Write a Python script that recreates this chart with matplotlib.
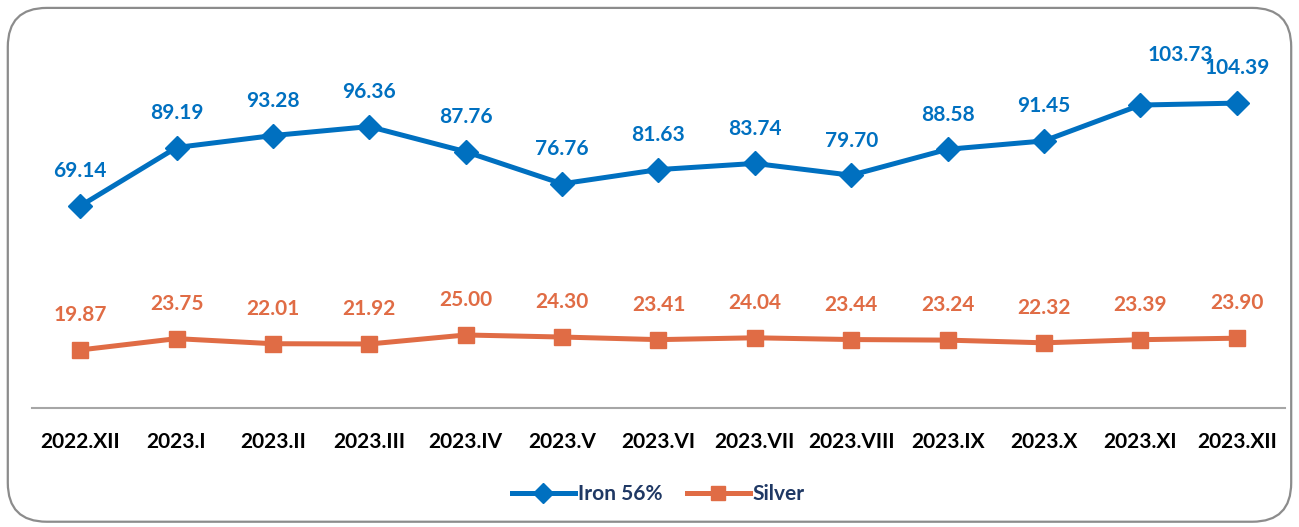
import matplotlib.pyplot as plt
from matplotlib.patches import FancyBboxPatch

plt.rcParams['font.family'] = ['Lato', 'DejaVu Sans']

months = ['2022.XII', '2023.I', '2023.II', '2023.III', '2023.IV', '2023.V', '2023.VI',
          '2023.VII', '2023.VIII', '2023.IX', '2023.X', '2023.XI', '2023.XII']
iron = [69.14, 89.19, 93.28, 96.36, 87.76, 76.76, 81.63, 83.74, 79.70, 88.58, 91.45, 103.73, 104.39]
silver = [19.87, 23.75, 22.01, 21.92, 25.00, 24.30, 23.41, 24.04, 23.44, 23.24, 22.32, 23.39, 23.90]

blue = '#0070C0'
orange = '#E06C45'

fig = plt.figure(figsize=(12.99, 5.27), dpi=100)
# rounded frame around the chart
frame = FancyBboxPatch((0.006, 0.01), 0.988, 0.975, boxstyle='round,pad=0,rounding_size=0.03',
                       transform=fig.transFigure, fc='white', ec='#8C8C8C', lw=1.6,
                       mutation_aspect=1299 / 527, zorder=-5)
fig.patches.append(frame)

ax = fig.add_axes([0.0246, 0.2258, 0.9646, 0.6717])
ax.patch.set_alpha(0)
x = list(range(len(months)))
ax.plot(x, iron, color=blue, lw=3.6, marker='D', ms=12, label='Iron 56%')
ax.plot(x, silver, color=orange, lw=3.6, marker='s', ms=12, label='Silver')

for i, v in enumerate(iron):
    dx, dy = 0, 25
    if i == len(iron) - 2:
        dx, dy = 29, 36
    ax.annotate(f'{v:.2f}', (i, v), xytext=(dx, dy), textcoords='offset points',
                ha='center', va='center', color=blue, fontsize=15, fontweight='bold')
for i, v in enumerate(silver):
    ax.annotate(f'{v:.2f}', (i, v), xytext=(0, 25), textcoords='offset points',
                ha='center', va='center', color=orange, fontsize=15, fontweight='bold')

ax.set_xlim(-0.5, len(months) - 0.5)
ax.set_ylim(0, 121.2)
ax.set_xticks(x)
ax.set_xticklabels(months, fontsize=15, fontweight='bold')
ax.tick_params(axis='x', length=0, pad=17)
ax.set_yticks([])
for s in ['top', 'left', 'right']:
    ax.spines[s].set_visible(False)
ax.spines['bottom'].set_color('#A6A6A6')
ax.spines['bottom'].set_linewidth(1.5)

leg = ax.legend(loc='center', bbox_to_anchor=(0.5, -0.243), ncol=2, frameon=False,
                prop={'size': 15, 'weight': 'bold'}, handlelength=3.0, columnspacing=1.2,
                handletextpad=0.15, markerscale=0.85)
for t in leg.get_texts():
    t.set_color('#1F3864')

fig.savefig('out.png', dpi=100)
